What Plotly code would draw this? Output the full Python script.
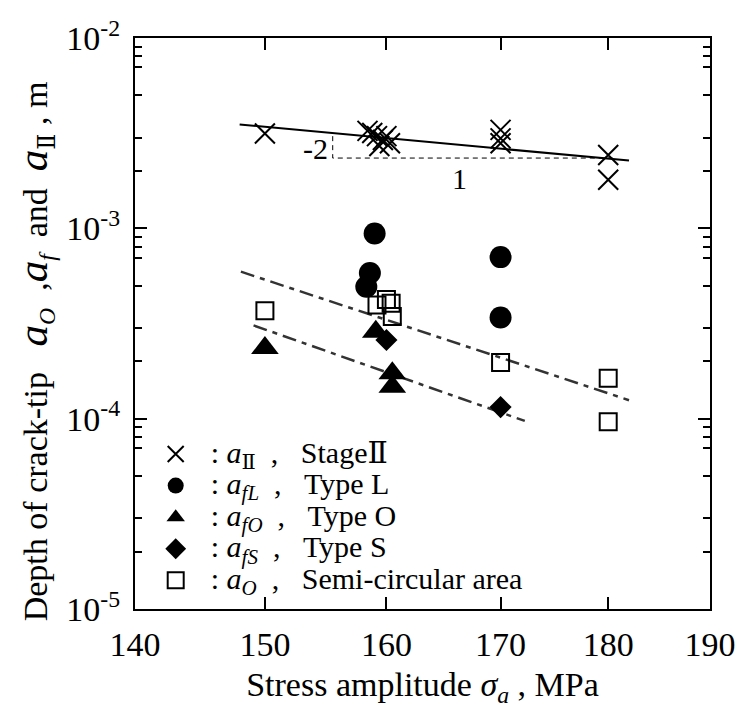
import plotly.graph_objects as go
import math

# ---- data ----
stage2_x = [150, 158.4, 158.8, 159.2, 159.7, 160.3, 160.0, 159.4, 170, 170, 170, 180, 180]
stage2_y = [3.15e-3, 3.25e-3, 3.17e-3, 3.05e-3, 2.91e-3, 2.80e-3, 3.05e-3, 2.71e-3,
            3.29e-3, 2.97e-3, 2.80e-3, 2.43e-3, 1.80e-3]

typeL_x = [159.0, 158.6, 158.3, 170, 170]
typeL_y = [9.4e-4, 5.82e-4, 4.93e-4, 7.06e-4, 3.40e-4]

typeO_x = [150, 159.1, 160.5, 160.5]
typeO_y = [2.35e-4, 2.86e-4, 1.73e-4, 1.47e-4]

typeS_x = [160.0, 170]
typeS_y = [2.59e-4, 1.15e-4]

semi_x = [150, 159.2, 160.0, 160.4, 160.5, 170, 180, 180]
semi_y = [3.69e-4, 3.95e-4, 4.23e-4, 4.04e-4, 3.44e-4, 1.97e-4, 1.63e-4, 9.64e-5]

# fitted lines (end points)
fit2_x = [148.0, 182.0]
fit2_y = [3.51e-3, 2.27e-3]
fitO_x = [148.1, 182.0]
fitO_y = [5.92e-4, 1.25e-4]
fitf_x = [149.1, 172.2]
fitf_y = [3.09e-4, 9.73e-5]

# slope triangle
tri_x = [155.5, 155.5, 180.5]
tri_y = [3.05e-3, 2.34e-3, 2.34e-3]
slope_labels = ["-2", "1"]
slope_lab_x = [155.3, 166.3]
slope_lab_y = [2.62e-3, 1.83e-3]

x_ticks = [140, 150, 160, 170, 180, 190]
y_ticks = [1e-5, 1e-4, 1e-3, 1e-2]
y_ticktext = ["10<sup>-5</sup>", "10<sup>-4</sup>", "10<sup>-3</sup>", "10<sup>-2</sup>"]
minor_digits = [2, 3, 5, 7, 8, 9]
minor_vals = [d * 10.0 ** e for e in range(-5, -2) for d in minor_digits]

FONT = "Liberation Serif, DejaVu Serif, Times New Roman, serif"
NB = "\u00a0"

fig = go.Figure()

# lines
fig.add_trace(go.Scatter(x=fit2_x, y=fit2_y, mode="lines",
                         line=dict(color="black", width=2), showlegend=False, hoverinfo="skip"))
fig.add_trace(go.Scatter(x=fitO_x, y=fitO_y, mode="lines",
                         line=dict(color="#333333", width=2.5, dash="14px,6px,5px,6px"),
                         showlegend=False, hoverinfo="skip"))
fig.add_trace(go.Scatter(x=fitf_x, y=fitf_y, mode="lines",
                         line=dict(color="#333333", width=2.5, dash="14px,6px,5px,6px"),
                         showlegend=False, hoverinfo="skip"))
fig.add_trace(go.Scatter(x=tri_x, y=tri_y, mode="lines",
                         line=dict(color="black", width=1, dash="5px,4px"),
                         showlegend=False, hoverinfo="skip"))

LEG = '<span style="font-size:30px">{}</span>'


def leg(sym, label):
    return LEG.format(NB * 2 + ":" + NB + sym + NB * 2 + "," + NB * 3 + label)


fig.add_trace(go.Scatter(
    x=stage2_x, y=stage2_y, mode="markers",
    name=leg("<i>a</i><sub>Ⅱ</sub>", "StageⅡ"),
    marker=dict(symbol="x-thin", size=20, line=dict(color="black", width=2), color="black")))
fig.add_trace(go.Scatter(
    x=typeL_x, y=typeL_y, mode="markers",
    name=leg("<i>a<sub>fL</sub></i>", "Type L"),
    marker=dict(symbol="circle", size=22, color="black")))
fig.add_trace(go.Scatter(
    x=typeO_x, y=typeO_y, mode="markers",
    name=leg("<i>a<sub>fO</sub></i>", "Type O"),
    marker=dict(symbol="triangle-up", size=24, color="black")))
fig.add_trace(go.Scatter(
    x=typeS_x, y=typeS_y, mode="markers",
    name=leg("<i>a<sub>fS</sub></i>", "Type S"),
    marker=dict(symbol="diamond", size=17, color="black")))
fig.add_trace(go.Scatter(
    x=semi_x, y=semi_y, mode="markers",
    name=leg("<i>a<sub>O</sub></i>", "Semi-circular area"),
    marker=dict(symbol="square-open", size=17, color="black", line=dict(width=2))))

for t, lx, ly in zip(slope_labels, slope_lab_x, slope_lab_y):
    fig.add_annotation(x=math.log10(lx), y=math.log10(ly), text=t, showarrow=False,
                       xanchor="right" if t == "-2" else "center", yanchor="middle",
                       font=dict(family=FONT, size=30, color="black"))

axis_common = dict(showline=True, linecolor="black", linewidth=2, mirror="allticks",
                   ticks="inside", ticklen=12, tickwidth=1.5, tickcolor="black",
                   showgrid=False, zeroline=False,
                   tickfont=dict(family=FONT, size=34, color="black"))

BIG_A = '<span style="font-size:43px"><i>a</i></span>'
y_title = ("Depth of crack-tip" + NB * 3 + BIG_A + "<i><sub>O</sub></i>" + NB * 2 + "," + BIG_A +
           "<i><sub>f</sub></i>" + NB * 2 + "and" + NB * 2 + BIG_A + "<sub>Ⅱ</sub>" + NB + "," + NB + "m")

fig.update_xaxes(type="log", range=[math.log10(140), math.log10(190)],
                 tickvals=x_ticks, ticktext=[str(v) for v in x_ticks],
                 ticklabelstandoff=4,
                 title=dict(text="Stress amplitude <i>σ<sub>a</sub></i> , MPa",
                            font=dict(family=FONT, size=34, color="black"), standoff=10),
                 **axis_common)
fig.update_yaxes(type="log", range=[-5, -2],
                 tickvals=y_ticks, ticktext=y_ticktext,
                 ticklabelstandoff=6,
                 minor=dict(tickvals=minor_vals, ticks="inside", ticklen=7,
                            tickcolor="black", tickwidth=1.5, showgrid=False),
                 **axis_common)

# y-axis title placed as a rotated annotation for precise position
fig.add_annotation(xref="paper", yref="paper", x=-0.175, y=0.452,
                   xanchor="center", yanchor="middle", textangle=-90,
                   text=y_title, showarrow=False,
                   font=dict(family=FONT, size=34, color="black"))

fig.update_layout(
    width=735, height=705,
    margin=dict(l=127, r=33, t=30, b=104, autoexpand=False),
    plot_bgcolor="white", paper_bgcolor="white",
    font=dict(family=FONT, color="black"),
    showlegend=True,
    legend=dict(x=0.036, y=0.308, xanchor="left", yanchor="top",
                bgcolor="rgba(0,0,0,0)", borderwidth=0,
                font=dict(family=FONT, size=22, color="black"),
                itemsizing="trace", tracegroupgap=0),
)

fig.write_html("out.html")
